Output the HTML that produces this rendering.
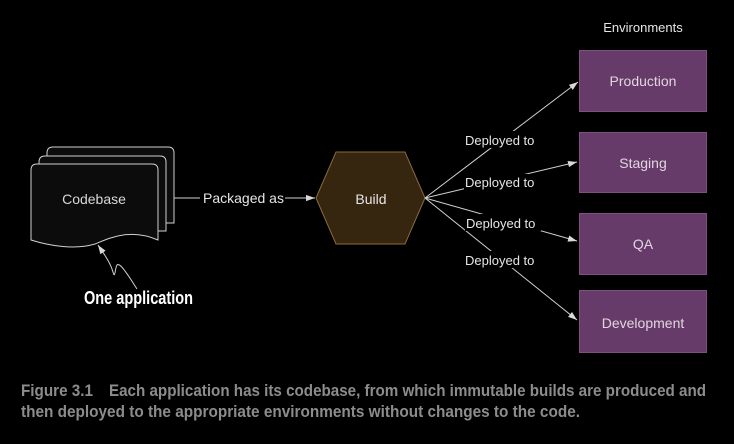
<!DOCTYPE html>
<html><head><meta charset="utf-8"><style>
html,body{margin:0;padding:0;background:#000;}
body{width:734px;height:444px;overflow:hidden;position:relative;}
svg{position:absolute;left:0;top:0;}
</style></head><body>
<svg width="734" height="444" viewBox="0 0 734 444">
<defs>
<marker id="a" viewBox="0 0 10 10" refX="10" refY="5" markerWidth="9" markerHeight="9" orient="auto" markerUnits="userSpaceOnUse"><path d="M0,1.5 L10,5 L0,8.5 Z" fill="#d8d8d8"/></marker>
</defs>
<g font-family="Liberation Sans, sans-serif" fill="#e6e6e6">
<path d="M47,223 L47,153 Q47,147 53,147 L168,147 Q174,147 174,153 L174,223 Z" fill="#0c0c0c" stroke="#d0d0d0" stroke-width="1"/>
<path d="M39,231 L39,162 Q39,156 45,156 L160,156 Q166,156 166,162 L166,231 Z" fill="#0c0c0c" stroke="#d0d0d0" stroke-width="1"/>
<path d="M31,240 L31,170 Q31,164 37,164 L152,164 Q158,164 158,170 L158,240 C130,228 110,238 95,244 C75,250 50,246 31,240 Z" fill="#0c0c0c" stroke="#d0d0d0" stroke-width="1"/>
<text x="94" y="204" font-size="14" text-anchor="middle" fill="#d8d8d8">Codebase</text>
<path d="M137,289 C128,275 120,262 117,265 C115,268 115,280 113,272 C110,262 104,254 98,245" fill="none" stroke="#d0d0d0" stroke-width="1" marker-end="url(#a)"/>
<text x="84" y="304" font-weight="bold" font-size="18" fill="#fff" textLength="109" lengthAdjust="spacingAndGlyphs">One application</text>
<line x1="174" y1="198" x2="200" y2="198" stroke="#d0d0d0"/>
<text x="203" y="203" font-size="14">Packaged as</text>
<line x1="285" y1="198" x2="315" y2="198" stroke="#d0d0d0" marker-end="url(#a)"/>
<polygon points="316,198 336,152 405,152 425,198 405,244 336,244" fill="#36250f" stroke="#8a6a3c" stroke-width="1"/>
<text x="371" y="204" font-size="14" text-anchor="middle">Build</text>
<text x="643" y="32" font-size="13" text-anchor="middle">Environments</text>
<g fill="#673b69" stroke="#7e5080" stroke-width="1">
<rect x="579.5" y="50.5" width="127" height="61"/>
<rect x="579.5" y="132.5" width="127" height="60"/>
<rect x="579.5" y="213.5" width="127" height="61"/>
<rect x="579.5" y="290.5" width="127" height="62"/>
</g>
<g font-size="14" text-anchor="middle" fill="#e0d6e0">
<text x="643" y="86">Production</text>
<text x="643" y="168">Staging</text>
<text x="643" y="249">QA</text>
<text x="643" y="328">Development</text>
</g>
<g stroke="#d0d0d0" stroke-width="1" fill="none">
<line x1="425" y1="198" x2="578" y2="82" marker-end="url(#a)"/>
<line x1="425" y1="198" x2="577" y2="162" marker-end="url(#a)"/>
<line x1="425" y1="198" x2="577" y2="241" marker-end="url(#a)"/>
<line x1="425" y1="198" x2="577" y2="320" marker-end="url(#a)"/>
</g>
<g font-size="13">
<rect x="464" y="131" width="76" height="17" fill="#000"/><text x="465" y="145">Deployed to</text>
<rect x="464" y="174" width="76" height="17" fill="#000"/><text x="465" y="187">Deployed to</text>
<rect x="465" y="214" width="76" height="17" fill="#000"/><text x="466" y="228">Deployed to</text>
<rect x="464" y="251" width="76" height="17" fill="#000"/><text x="465" y="265">Deployed to</text>
</g>
<g font-weight="bold" font-size="17" fill="#8c8c8c">
<text x="21" y="396" textLength="72" lengthAdjust="spacingAndGlyphs">Figure 3.1</text>
<text x="109" y="396" textLength="597" lengthAdjust="spacingAndGlyphs">Each application has its codebase, from which immutable builds are produced and</text>
<text x="21" y="417" textLength="559" lengthAdjust="spacingAndGlyphs">then deployed to the appropriate environments without changes to the code.</text>
</g>
</g>
</svg>
</body></html>
